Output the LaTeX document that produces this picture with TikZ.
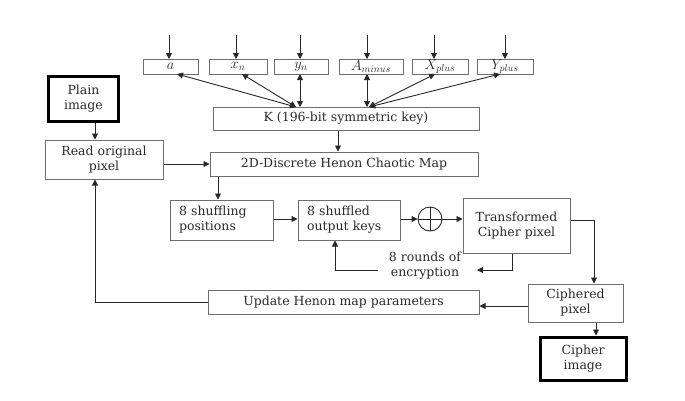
\documentclass[tikz,border=0pt]{standalone}
\usepackage{fontspec}
\setmainfont{DejaVu Serif}
\usetikzlibrary{arrows.meta}
\definecolor{txt}{RGB}{40,40,55}
\definecolor{bord}{RGB}{110,110,110}
\definecolor{ln}{RGB}{40,40,40}
\tikzset{
  box/.style={draw=bord, line width=1pt, inner sep=0pt, align=center, text=txt, font=\fontsize{12.5}{15}\selectfont},
  mbox/.style={box, minimum height=15pt, font=\fontsize{14}{15}\selectfont},
  thick box/.style={draw=black, line width=3pt, inner sep=0pt, align=center, text=txt, font=\fontsize{12.5}{15}\selectfont},
  arr/.style={draw=ln, line width=0.9pt, -{Triangle[length=6pt,width=6pt]}},
  darr/.style={draw=ln, line width=0.9pt, {Triangle[length=6pt,width=6pt]}-{Triangle[length=6pt,width=6pt]}},
  lbl/.style={text=txt, align=center, font=\fontsize{12.5}{15}\selectfont}
}
\begin{document}
\begin{tikzpicture}[x=1pt,y=-1pt]
\useasboundingbox (0,0) rectangle (685,400);
% top parameter boxes
\node[mbox, minimum width=55pt] (a) at (170.5,66.5) {$a$};
\node[mbox, minimum width=58pt] (xn) at (238,66.5) {$x_n$};
\node[mbox, minimum width=54pt] (yn) at (301,66.5) {$y_n$};
\node[mbox, minimum width=64pt] (am) at (371,66.5) {$A_{minus}$};
\node[mbox, minimum width=56pt] (xp) at (440,66.5) {$X_{plus}$};
\node[mbox, minimum width=56pt] (yp) at (505,66.5) {$Y_{plus}$};
\foreach \n/\x in {a/169,xn/236,yn/300,am/367,xp/434,yp/505}{
  \coordinate (in\n) at (\x,35);
  \draw[arr] (in\n) -- (\x,59);
}
% key
\node[box, minimum width=266pt, minimum height=23pt] (k) at (346,118.5) {K (196-bit symmetric key)};
\coordinate (kl) at (296,107);
\coordinate (kr) at (369,107);
\draw[darr] (kl) -- (177,74);
\draw[darr] (kl) -- (242,74);
\draw[darr] (300,107) -- (300,74);
\draw[darr] (367,107) -- (367,74);
\draw[darr] (kr) -- (435,74);
\draw[darr] (kr) -- (500,74);
% left column
\node[thick box, minimum width=70pt, minimum height=45pt] (plain) at (83.5,99) {Plain\\image};
\node[box, minimum width=118pt, minimum height=39pt] (read) at (104,159.5) {Read original\\pixel};
\draw[arr] (plain.south -| 95,0) -- (read.north -| 95,0);
% henon
\node[box, minimum width=268pt, minimum height=24pt] (henon) at (344,164) {2D-Discrete Henon Chaotic Map};
\draw[arr] (read.east |- 0,164) -- (henon.west);
\draw[arr] (k.south -| 338,0) -- (henon.north -| 338,0);
% middle row
\node[box, minimum width=103pt, minimum height=40pt, text width=85pt, align=left] (shuf) at (221.5,220) {8 shuffling\\positions};
\node[box, minimum width=102pt, minimum height=40pt, text width=84pt, align=left] (keys) at (349,220) {8 shuffled\\output keys};
\node[draw=ln, line width=0.9pt, circle, minimum size=24pt, inner sep=0pt] (xor) at (430,219) {};
\draw[ln, line width=0.9pt] (xor.north) -- (xor.south) (xor.west) -- (xor.east);
\node[box, minimum width=107pt, minimum height=55pt] (trans) at (516.5,225.5) {Transformed\\Cipher pixel};
\draw[arr] (henon.south -| 218,0) -- (shuf.north -| 218,0);
\draw[arr] (shuf.east |- 0,219) -- (keys.west |- 0,219);
\draw[arr] (keys.east |- 0,219) -- (xor.west);
\draw[arr] (xor.east) -- (trans.west |- 0,219);
% rounds loop
\node[lbl] (rounds) at (425,266) {8 rounds of\\encryption};
\draw[arr] (trans.south -| 512,0) -- (512,270) -- (477,270);
\draw[arr] (378,270) -- (335,270) -- (keys.south -| 335,0);
% right column
\node[box, minimum width=95pt, minimum height=38pt] (ciph) at (575.5,303) {Ciphered\\pixel};
\node[thick box, minimum width=86pt, minimum height=43pt] (cimg) at (583,358.5) {Cipher\\image};
\draw[arr] (trans.east |- 0,220) -- (594,220) -- (ciph.north -| 594,0);
\draw[arr] (ciph.south -| 596,0) -- (cimg.north -| 596,0);
% update
\node[box, minimum width=271pt, minimum height=24pt] (upd) at (343.5,302) {Update Henon map parameters};
\draw[arr] (ciph.west |- 0,306) -- (upd.east |- 0,306);
\draw[arr] (upd.west) -- (95,302) -- (read.south -| 95,0);
\end{tikzpicture}
\end{document}
